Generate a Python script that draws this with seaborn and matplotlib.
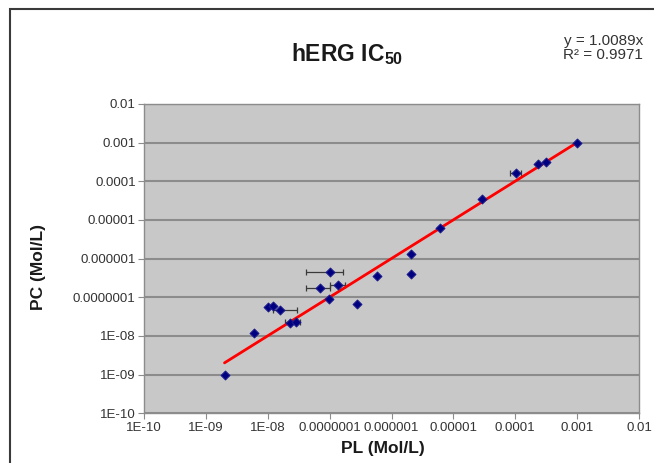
import numpy as np
import pandas as pd
import matplotlib
matplotlib.use("Agg")
import matplotlib.pyplot as plt
from matplotlib.patches import Rectangle
import seaborn as sns

# ---- data ----
pl = [2.0e-9, 6.0e-9, 1.0e-8, 1.23e-8, 1.55e-8, 2.3e-8, 2.9e-8, 1.0e-7, 7.1e-8,
      1.38e-7, 9.8e-8, 2.75e-7, 5.8e-7, 2.1e-6, 2.04e-6, 6.0e-6, 2.9e-5, 1.02e-4,
      2.3e-4, 3.1e-4, 1.0e-3]
pc = [1.0e-9, 1.2e-8, 5.7e-8, 6.0e-8, 4.7e-8, 2.2e-8, 2.3e-8, 4.4e-7, 1.7e-7,
      2.1e-7, 8.9e-8, 6.6e-8, 3.55e-7, 1.29e-6, 4.0e-7, 6.2e-6, 3.5e-5, 1.6e-4,
      2.75e-4, 3.1e-4, 1.0e-3]
# horizontal error bars: index, low, high
err_idx = [4, 6, 7, 8, 9, 17]
err_lo = [1.2e-8, 1.9e-8, 4.2e-8, 4.2e-8, 1.0e-7, 8.1e-5]
err_hi = [2.95e-8, 3.3e-8, 1.66e-7, 1.0e-7, 1.8e-7, 1.26e-4]
slope = 1.0089
r2 = 0.9971
tick_vals = [1e-10, 1e-9, 1e-8, 1e-7, 1e-6, 1e-5, 1e-4, 1e-3, 1e-2]
tick_labels = ["1E-10", "1E-09", "1E-08", "0.0000001", "0.000001", "0.00001",
               "0.0001", "0.001", "0.01"]

sns.set_style("white")
plt.rcParams["font.family"] = ["Liberation Sans", "DejaVu Sans"]
plt.rcParams["mathtext.fontset"] = "custom"
plt.rcParams["mathtext.rm"] = "Liberation Sans"
plt.rcParams["mathtext.bf"] = "Liberation Sans:bold"

W, H = 654, 463
fig = plt.figure(figsize=(W / 100, H / 100), dpi=100)
fig.patch.set_facecolor("white")
ax = fig.add_axes([144 / W, 1 - 413.3 / H, (639 - 144) / W, (413.3 - 104) / H])
ax.set_facecolor("#c8c8c8")
ax.set_xscale("log")
ax.set_yscale("log")
ax.set_xlim(1e-10, 1e-2)
ax.set_ylim(1e-10, 1e-2)

# gridlines
ax.set_axisbelow(True)
ax.yaxis.grid(True, color="#8c8c8c", linewidth=1.5)
ax.xaxis.grid(False)

df = pd.DataFrame({"PL": pl, "PC": pc})

# error bars
ex = [pl[i] for i in err_idx]
ey = [pc[i] for i in err_idx]
xerr = np.array([[x - lo for x, lo in zip(ex, err_lo)],
                 [hi - x for x, hi in zip(ex, err_hi)]])
ax.errorbar(ex, ey, xerr=xerr, fmt="none", ecolor="#3a3a3a", elinewidth=0.9,
            capsize=2.5, capthick=0.9, zorder=2)

# trendline
xl = [min(pl), max(pl)]
line_df = pd.DataFrame({"PL": xl, "PC": [slope * v for v in xl]})
sns.lineplot(data=line_df, x="PL", y="PC", color="#ff0000", linewidth=2.0, ax=ax, zorder=3)

sns.scatterplot(data=df, x="PL", y="PC", marker="D", s=20, color="#000080",
                edgecolor="#1a1a8c", linewidth=0.8, ax=ax, zorder=4)

ax.set_xticks(tick_vals)
ax.set_xticklabels(tick_labels)
ax.set_yticks(tick_vals)
ax.set_yticklabels(tick_labels)
ax.minorticks_off()
ax.tick_params(axis="both", which="major", direction="out", length=4, width=0.8,
               color="#8c8c8c", labelsize=9.5, labelcolor="#333333", pad=2)
ax.tick_params(axis="x", bottom=True)
ax.tick_params(axis="y", left=True)
for s in ax.spines.values():
    s.set_color("#8c8c8c")
    s.set_linewidth(1.0)
    s.set_visible(True)

ax.set_xlabel("")
ax.set_ylabel("")
fig.text(383 / W, 1 - 448 / H, "PL (Mol/L)", ha="center", va="center",
         fontsize=12.5, fontweight="bold", color="#1a1a1a")
fig.text(38.5 / W, 1 - 267 / H, "PC (Mol/L)", ha="center", va="center",
         rotation=90, fontsize=12.5, fontweight="bold", color="#1a1a1a")
fig.text(347 / W, 1 - 54 / H, r"hERG IC$_{\mathbf{50}}$", ha="center", va="center",
         fontsize=16.5, fontweight="bold", color="#1a1a1a")
fig.text(643 / W, 1 - 41.5 / H, f"y = {slope}x", ha="right", va="center",
         fontsize=11, color="#333333")
fig.text(643 / W, 1 - 55 / H, f"R² = {r2}", ha="right", va="center",
         fontsize=11, color="#333333")

# outer chart frame (cropped on right/bottom)
fig.patches.append(Rectangle((10 / W, -0.05), 1.2, 1 - 9 / H + 0.05,
                             transform=fig.transFigure, fill=False,
                             edgecolor="#3a3a3a", linewidth=1.5))

fig.savefig("out.png", dpi=100, facecolor="white")
